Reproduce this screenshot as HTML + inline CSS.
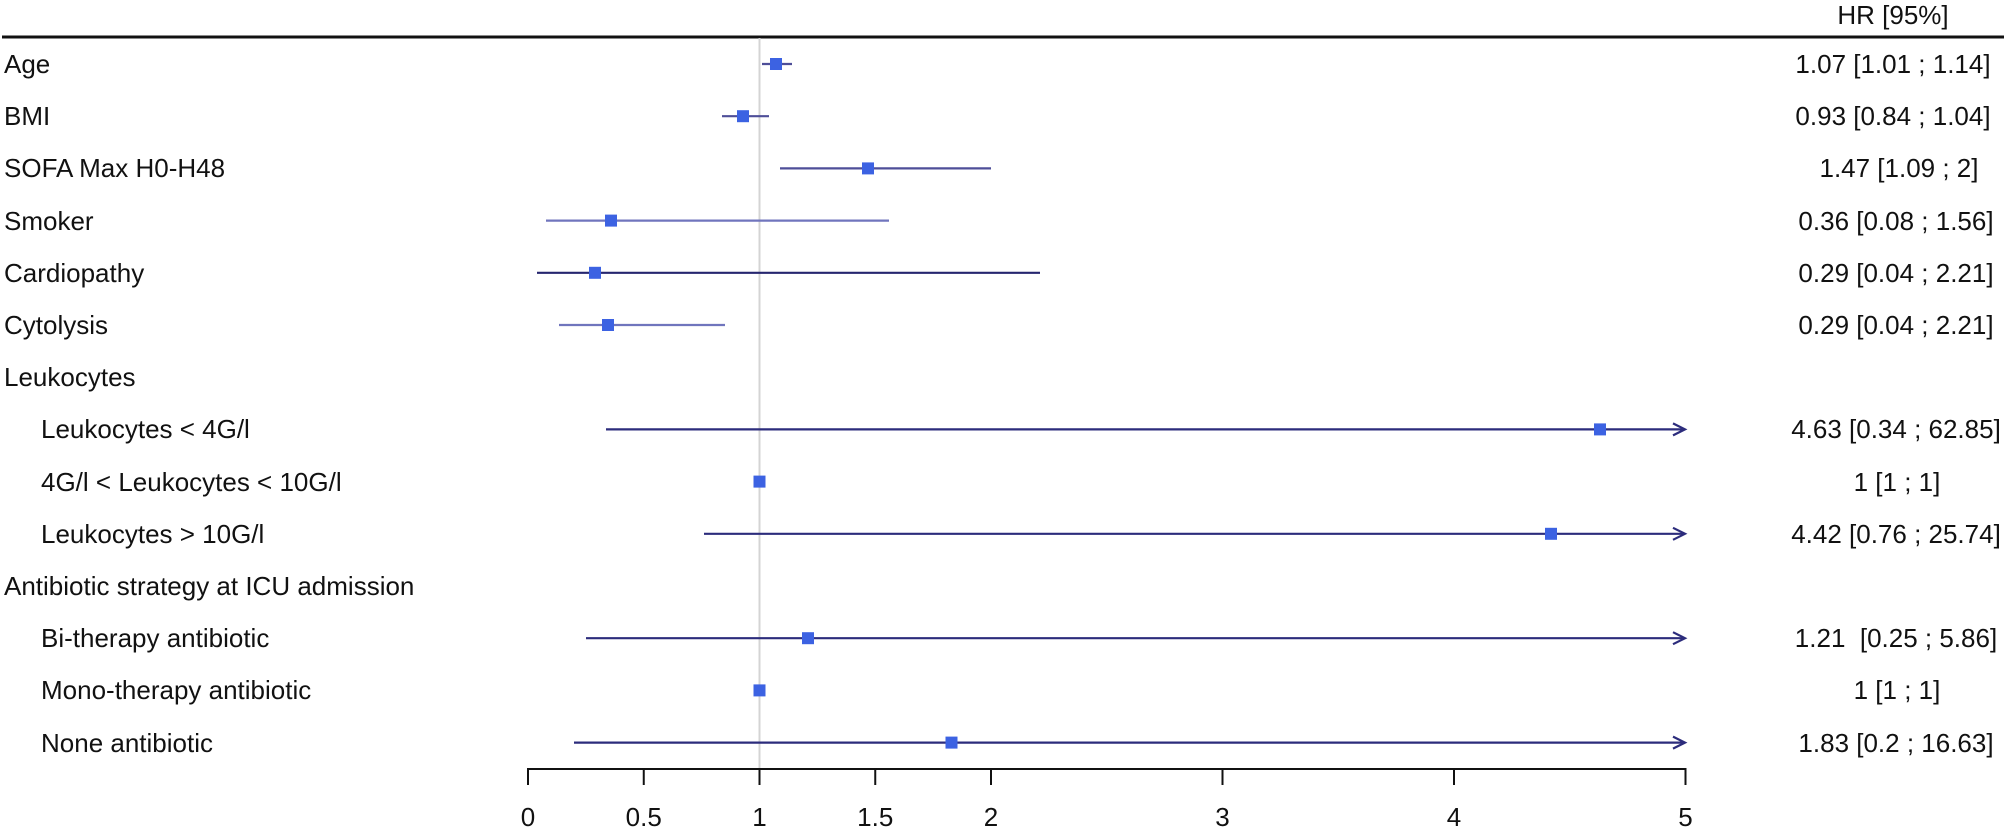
<!DOCTYPE html>
<html>
<head>
<meta charset="utf-8">
<style>
html,body{margin:0;padding:0;background:#fff;}
svg{display:block;}
text{font-family:"Liberation Sans",Arial,sans-serif;font-size:26px;fill:#111;}
</style>
</head>
<body>
<svg width="2008" height="830" viewBox="0 0 2008 830" xmlns="http://www.w3.org/2000/svg">
  <!-- header -->
  <text x="1893" y="24" text-anchor="middle">HR [95%]</text>
  <line x1="2" y1="37" x2="2004" y2="37" stroke="#111" stroke-width="3"/>

  <!-- reference line at 1 -->
  <line x1="759.5" y1="38" x2="759.5" y2="769" stroke="#d4d4d4" stroke-width="2"/>

  <!-- left labels -->
  <text x="4" y="73">Age</text>
  <text x="4" y="125">BMI</text>
  <text x="4" y="177">SOFA Max H0-H48</text>
  <text x="4" y="230">Smoker</text>
  <text x="4" y="282">Cardiopathy</text>
  <text x="4" y="334">Cytolysis</text>
  <text x="4" y="386">Leukocytes</text>
  <text x="41" y="438">Leukocytes &lt; 4G/l</text>
  <text x="41" y="491">4G/l &lt; Leukocytes &lt; 10G/l</text>
  <text x="41" y="543">Leukocytes &gt; 10G/l</text>
  <text x="4" y="595">Antibiotic strategy at ICU admission</text>
  <text x="41" y="647">Bi-therapy antibiotic</text>
  <text x="41" y="699">Mono-therapy antibiotic</text>
  <text x="41" y="752">None antibiotic</text>

  <!-- right labels -->
  <g text-anchor="middle">
    <text x="1893" y="73">1.07 [1.01 ; 1.14]</text>
    <text x="1893" y="125">0.93 [0.84 ; 1.04]</text>
    <text x="1899" y="177">1.47 [1.09 ; 2]</text>
    <text x="1896" y="230">0.36 [0.08 ; 1.56]</text>
    <text x="1896" y="282">0.29 [0.04 ; 2.21]</text>
    <text x="1896" y="334">0.29 [0.04 ; 2.21]</text>
    <text x="1896" y="438">4.63 [0.34 ; 62.85]</text>
    <text x="1897" y="491">1 [1 ; 1]</text>
    <text x="1896" y="543">4.42 [0.76 ; 25.74]</text>
    <text x="1896" y="647" xml:space="preserve">1.21  [0.25 ; 5.86]</text>
    <text x="1897" y="699">1 [1 ; 1]</text>
    <text x="1896" y="752">1.83 [0.2 ; 16.63]</text>
  </g>

  <!-- CI lines -->
  <g stroke-width="2.2" fill="none">
    <line x1="762" y1="64" x2="792" y2="64" stroke="#4e4e98"/>
    <line x1="722" y1="116.2" x2="769" y2="116.2" stroke="#4e4e98"/>
    <line x1="780" y1="168.4" x2="991" y2="168.4" stroke="#4e4e98"/>
    <line x1="546" y1="220.6" x2="889" y2="220.6" stroke="#7075bd"/>
    <line x1="537" y1="272.8" x2="1040" y2="272.8" stroke="#26266f"/>
    <line x1="559" y1="325" x2="725" y2="325" stroke="#7075bd"/>
    <line x1="606" y1="429.4" x2="1684" y2="429.4" stroke="#2c2c7c"/>
    <polyline points="1673,423.4 1685,429.4 1673,435.4" stroke="#2c2c7c"/>
    <line x1="704" y1="533.8" x2="1684" y2="533.8" stroke="#2c2c7c"/>
    <polyline points="1673,527.8 1685,533.8 1673,539.8" stroke="#2c2c7c"/>
    <line x1="586" y1="638.2" x2="1684" y2="638.2" stroke="#2c2c7c"/>
    <polyline points="1673,632.2 1685,638.2 1673,644.2" stroke="#2c2c7c"/>
    <line x1="574" y1="742.6" x2="1684" y2="742.6" stroke="#2c2c7c"/>
    <polyline points="1673,736.6 1685,742.6 1673,748.6" stroke="#2c2c7c"/>
  </g>

  <!-- markers -->
  <g fill="#3c62e2">
    <rect x="770" y="58" width="12" height="12"/>
    <rect x="737" y="110.2" width="12" height="12"/>
    <rect x="862" y="162.4" width="12" height="12"/>
    <rect x="605" y="214.6" width="12" height="12"/>
    <rect x="589" y="266.8" width="12" height="12"/>
    <rect x="602" y="319" width="12" height="12"/>
    <rect x="1594" y="423.4" width="12" height="12"/>
    <rect x="753.5" y="475.6" width="12" height="12"/>
    <rect x="1545" y="527.8" width="12" height="12"/>
    <rect x="802" y="632.2" width="12" height="12"/>
    <rect x="753.5" y="684.4" width="12" height="12"/>
    <rect x="945.5" y="736.6" width="12" height="12"/>
  </g>

  <!-- x axis -->
  <g stroke="#111" stroke-width="2">
    <line x1="528" y1="769" x2="1685.5" y2="769"/>
    <line x1="528" y1="768" x2="528" y2="785"/>
    <line x1="643.75" y1="768" x2="643.75" y2="785"/>
    <line x1="759.5" y1="768" x2="759.5" y2="785"/>
    <line x1="875.25" y1="768" x2="875.25" y2="785"/>
    <line x1="991" y1="768" x2="991" y2="785"/>
    <line x1="1222.5" y1="768" x2="1222.5" y2="785"/>
    <line x1="1454" y1="768" x2="1454" y2="785"/>
    <line x1="1685.5" y1="768" x2="1685.5" y2="785"/>
  </g>
  <g text-anchor="middle">
    <text x="528" y="826">0</text>
    <text x="643.75" y="826">0.5</text>
    <text x="759.5" y="826">1</text>
    <text x="875.25" y="826">1.5</text>
    <text x="991" y="826">2</text>
    <text x="1222.5" y="826">3</text>
    <text x="1454" y="826">4</text>
    <text x="1685.5" y="826">5</text>
  </g>
</svg>
</body>
</html>
